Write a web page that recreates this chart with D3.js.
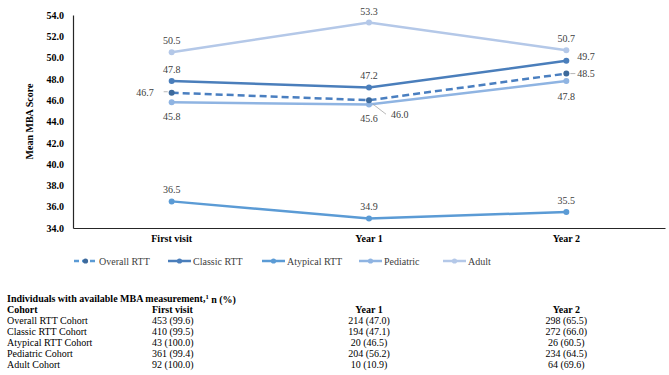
<!DOCTYPE html>
<html>
<head>
<meta charset="utf-8">
<script src="https://cdn.jsdelivr.net/npm/d3@7"></script>
<style>
  body { margin: 0; background: #fff; }
  svg, svg text { font-family: "Liberation Serif", "Times New Roman", serif; }
  .axis path { stroke: #262626; stroke-width: 1.2; }
  .axis text { font-size: 10px; font-weight: bold; fill: #000; font-family: "Liberation Serif", "Times New Roman", serif; }
  .lbl { font-size: 10px; fill: #404040; }
  .tbl { font-size: 10px; fill: #000; }
</style>
</head>
<body>
<div id="chart"></div>
<script>
// data
const categories = ['First visit', 'Year 1', 'Year 2'];
const seriesNames = ['Overall RTT', 'Classic RTT', 'Atypical RTT', 'Pediatric', 'Adult'];
const overallRTT = [46.7, 46.0, 48.5];
const classicRTT = [47.8, 47.2, 49.7];
const atypicalRTT = [36.5, 34.9, 35.5];
const pediatric = [45.8, 45.6, 47.8];
const adult = [50.5, 53.3, 50.7];
const yTicks = [34, 36, 38, 40, 42, 44, 46, 48, 50, 52, 54];

const tableTitle = 'Individuals with available MBA measurement,';
const tableHeaders = ['Cohort', 'First visit', 'Year 1', 'Year 2'];
const cohorts = ['Overall RTT Cohort', 'Classic RTT Cohort', 'Atypical RTT Cohort', 'Pediatric Cohort', 'Adult Cohort'];
const firstVisitN = ['453 (99.6)', '410 (99.5)', '43 (100.0)', '361 (99.4)', '92 (100.0)'];
const year1N = ['214 (47.0)', '194 (47.1)', '20 (46.5)', '204 (56.2)', '10 (10.9)'];
const year2N = ['298 (65.5)', '272 (66.0)', '26 (60.5)', '234 (64.5)', '64 (69.6)'];

// styling per series (colour, dash, label offsets)
const styles = {
  'Overall RTT': {color: '#4a7fc0', legendColor: '#5b9bd5', dot: '#3d6a9c', dash: '7,4',
    lab: [{dx: -18, dy: 0, anchor: 'end', lead: [[-4, -1], [-8, -1]]},
          {dx: 22, dy: 14, anchor: 'start', lead: [[4, 4], [17, 14]]},
          {dx: 11, dy: 0, anchor: 'start', lead: [[4, 0], [9, 0]]}]},
  'Classic RTT': {color: '#4a7ebb', dot: '#4a7ebb', dash: null,
    lab: [{dx: 0, dy: -12}, {dx: 0, dy: -12}, {dx: 11, dy: -4, anchor: 'start'}]},
  'Atypical RTT': {color: '#5b9bd5', dot: '#5b9bd5', dash: null,
    lab: [{dx: 0, dy: -12}, {dx: 0, dy: -12}, {dx: 0, dy: -12}]},
  'Pediatric': {color: '#8fb4e2', dot: '#8fb4e2', dash: null,
    lab: [{dx: 0, dy: 14}, {dx: 0, dy: 14}, {dx: 0, dy: 15}]},
  'Adult': {color: '#b4c8e8', dot: '#b4c8e8', dash: null,
    lab: [{dx: 0, dy: -12}, {dx: 0, dy: -11}, {dx: 0, dy: -12}]}
};

const seriesData = {
  'Overall RTT': overallRTT,
  'Classic RTT': classicRTT,
  'Atypical RTT': atypicalRTT,
  'Pediatric': pediatric,
  'Adult': adult
};

const width = 669, height = 375;
const margin = {top: 15, right: 4, left: 73};
const plotBottom = 228;

const svg = d3.select('#chart').append('svg')
    .attr('width', width)
    .attr('height', height);

const xScale = d3.scaleBand()
    .domain(categories)
    .range([margin.left, width - margin.right]);

const yScale = d3.scaleLinear()
    .domain([34, 54])
    .range([plotBottom, margin.top]);

const xAxis = d3.axisBottom(xScale)
    .tickSize(0)
    .tickPadding(7);

svg.append('g')
    .attr('class', 'axis x-axis')
    .attr('transform', `translate(0, ${plotBottom})`)
    .call(xAxis)
    .attr('font-family', null);

const yAxis = d3.axisLeft(yScale)
    .tickValues(yTicks)
    .tickFormat(d3.format('.1f'))
    .tickSize(0)
    .tickPadding(9);

svg.append('g')
    .attr('class', 'axis y-axis')
    .attr('transform', `translate(${margin.left}, 0)`)
    .call(yAxis)
    .attr('font-family', null);

svg.append('text')
    .attr('transform', `translate(33, ${(margin.top + plotBottom) / 2}) rotate(-90)`)
    .attr('text-anchor', 'middle')
    .style('font-size', '10px')
    .style('font-weight', 'bold')
    .text('Mean MBA Score');

const cx = c => xScale(c) + xScale.bandwidth() / 2;

const line = d3.line()
    .x((d, i) => cx(categories[i]))
    .y(d => yScale(d));

// draw order: lightest first, overall on top
const drawOrder = ['Adult', 'Pediatric', 'Atypical RTT', 'Classic RTT', 'Overall RTT'];

drawOrder.forEach(name => {
  const vals = seriesData[name];
  const st = styles[name];
  const g = svg.append('g').attr('class', 'series');
  g.append('path')
      .datum(vals)
      .attr('fill', 'none')
      .attr('stroke', st.color)
      .attr('stroke-width', 2.5)
      .attr('stroke-dasharray', st.dash)
      .attr('d', line);
  g.selectAll('circle')
      .data(vals)
      .enter()
      .append('circle')
      .attr('cx', (d, i) => cx(categories[i]))
      .attr('cy', d => yScale(d))
      .attr('r', 3)
      .attr('fill', st.dot);
});

// data labels
drawOrder.forEach(name => {
  const vals = seriesData[name];
  const st = styles[name];
  vals.forEach((v, i) => {
    const px = cx(categories[i]), py = yScale(v);
    const o = st.lab[i];
    if (o.lead) {
      svg.append('line')
          .attr('x1', px + o.lead[0][0]).attr('y1', py + o.lead[0][1])
          .attr('x2', px + o.lead[1][0]).attr('y2', py + o.lead[1][1])
          .attr('stroke', '#a6a6a6')
          .attr('stroke-width', 0.8);
    }
    svg.append('text')
        .attr('class', 'lbl')
        .attr('x', px + o.dx)
        .attr('y', py + o.dy)
        .attr('dy', '0.35em')
        .attr('text-anchor', o.anchor || 'middle')
        .text(d3.format('.1f')(v));
  });
});

// legend
const legendX = [74, 168, 262, 359, 443];
const legendY = 261;
seriesNames.forEach((name, i) => {
  const st = styles[name];
  const g = svg.append('g').attr('transform', `translate(${legendX[i]}, ${legendY})`);
  g.append('line')
      .attr('x1', 0).attr('x2', 23)
      .attr('stroke', st.legendColor || st.color)
      .attr('stroke-width', 2.5)
      .attr('stroke-dasharray', st.dash ? '5,3' : null);
  g.append('circle')
      .attr('cx', 11.5).attr('r', 2.6)
      .attr('fill', st.dot);
  g.append('text')
      .attr('x', 25)
      .attr('dy', '0.35em')
      .style('font-size', '10px')
      .style('fill', '#404040')
      .text(name);
});

// table below
const tblTop = 298;
const rowH = 11;
const title = svg.append('text')
    .attr('class', 'tbl')
    .attr('x', 7)
    .attr('y', tblTop)
    .attr('dy', '0.35em')
    .style('font-weight', 'bold');
title.append('tspan').text(tableTitle);
title.append('tspan').attr('dy', '-0.45em').style('font-size', '6.5px').text('1');
title.append('tspan').attr('dy', '0.45em').text(' n (%)');

const colX = [7, 152, cx(categories[1]), cx(categories[2])];
const colAnchor = ['start', 'start', 'middle', 'middle'];
tableHeaders.forEach((h, j) => {
  svg.append('text')
      .attr('class', 'tbl')
      .attr('x', colX[j])
      .attr('y', tblTop + rowH)
      .attr('dy', '0.35em')
      .attr('text-anchor', colAnchor[j])
      .style('font-weight', 'bold')
      .text(h);
});

const cols = [cohorts, firstVisitN, year1N, year2N];
cohorts.forEach((c, r) => {
  cols.forEach((col, j) => {
    svg.append('text')
        .attr('class', 'tbl')
        .attr('x', colX[j])
        .attr('y', tblTop + rowH * (r + 2))
        .attr('dy', '0.35em')
        .attr('text-anchor', colAnchor[j])
        .text(col[r]);
  });
});
</script>
</body>
</html>
